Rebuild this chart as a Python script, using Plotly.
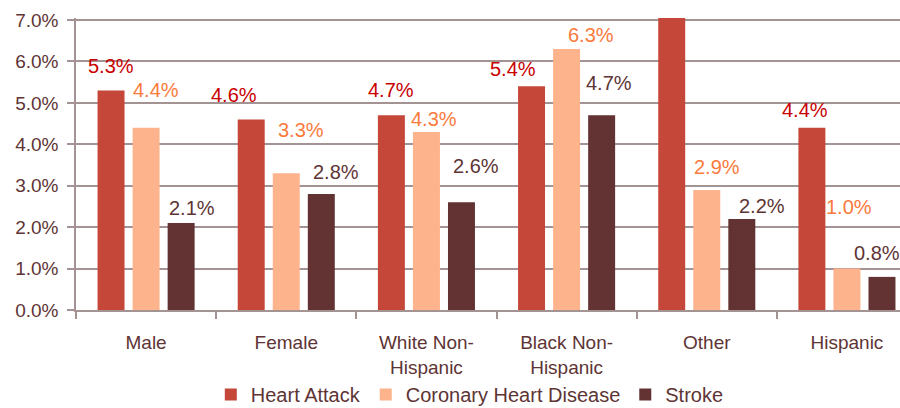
import plotly.graph_objects as go

# ---- data ----
categories = ["Male", "Female", "White Non-<br>Hispanic", "Black Non-<br>Hispanic", "Other", "Hispanic"]
series_names = ["Heart Attack", "Coronary Heart Disease", "Stroke"]
heart_attack = [5.3, 4.6, 4.7, 5.4, 7.5, 4.4]
coronary = [4.4, 3.3, 4.3, 6.3, 2.9, 1.0]
stroke = [2.1, 2.8, 2.6, 4.7, 2.2, 0.8]
y_ticks = [0, 1, 2, 3, 4, 5, 6, 7]

# ---- style ----
bar_colors = ["#C5473A", "#FDB38C", "#633233"]
label_colors = ["#C80000", "#FA7A3C", "#5E3434"]
text_color = "#5E3434"
grid_color = "#A39393"
font_family = "Liberation Sans, Arial, sans-serif"
y_max = 7.05

# label offsets in pixels (dx right, dy up) per series, per category
label_dx = [[0, -17, 0, -19, 0, -7],
            [10, 15, 8, 24, 10, 2],
            [11, 15, 15, 7, 20, -5]]
label_dy = [[24, 24, 25, 17, 20, 18],
            [38, 43, 13, 14, 23, 62],
            [15, 22, 36, 32, 13, 24]]

values = [heart_attack, coronary, stroke]
bargap = 0.25
slot = (1 - bargap) / len(values)

fig = go.Figure()
for s, (name, vals) in enumerate(zip(series_names, values)):
    fig.add_trace(go.Bar(
        x=list(range(len(categories))), y=vals, name=name,
        marker=dict(color=bar_colors[s], line=dict(width=0)),
        hoverinfo="skip",
    ))

annotations = []
for s, vals in enumerate(values):
    offset = (s - (len(values) - 1) / 2) * slot
    for i, v in enumerate(vals):
        if v > y_max:
            continue
        annotations.append(dict(
            x=i + offset, y=v, xref="x", yref="y",
            text=f"{v:.1f}%", showarrow=False,
            xanchor="center", yanchor="middle",
            xshift=label_dx[s][i], yshift=label_dy[s][i],
            font=dict(family=font_family, size=20, color=label_colors[s]),
        ))

fig.update_layout(
    width=900, height=408,
    margin=dict(l=76, r=0, t=18, b=98, pad=0, autoexpand=False),
    paper_bgcolor="white", plot_bgcolor="white",
    barmode="group", bargap=bargap, bargroupgap=0.23,
    font=dict(family=font_family, size=19, color=text_color),
    showlegend=True,
    legend=dict(orientation="h", xref="container", yref="container",
                x=0.522, xanchor="center", y=0.033, yanchor="middle",
                font=dict(size=20, color=text_color), itemwidth=30,
                tracegroupgap=0, bgcolor="rgba(0,0,0,0)"),
    annotations=annotations,
)

fig.update_xaxes(
    tickmode="array", tickvals=list(range(len(categories))), ticktext=categories,
    range=[-0.5, 5.5 - 17 / 140],
    showline=True, linecolor=grid_color, linewidth=2,
    ticks="", showgrid=False, zeroline=False,
    tickfont=dict(size=19, color=text_color),
    ticklabelstandoff=14,
    automargin=False,
    minor=dict(tickmode="array", tickvals=[i - 0.5 for i in range(len(categories) + 1)],
               ticks="outside", ticklen=7, tickcolor=grid_color, tickwidth=1.5, showgrid=False),
)

fig.update_yaxes(
    range=[0, y_max], tickvals=y_ticks, ticktext=[f"{t:.1f}%" for t in y_ticks],
    showline=True, linecolor=grid_color, linewidth=1.5,
    ticks="outside", ticklen=7, tickcolor=grid_color, tickwidth=1.5,
    showgrid=True, gridcolor=grid_color, gridwidth=1.5,
    zeroline=False,
    tickfont=dict(size=19, color=text_color),
    ticklabelstandoff=5,
    automargin=False,
)

fig.write_html("out.html", config={"displayModeBar": False},
               post_script="document.body.style.margin='0';")
